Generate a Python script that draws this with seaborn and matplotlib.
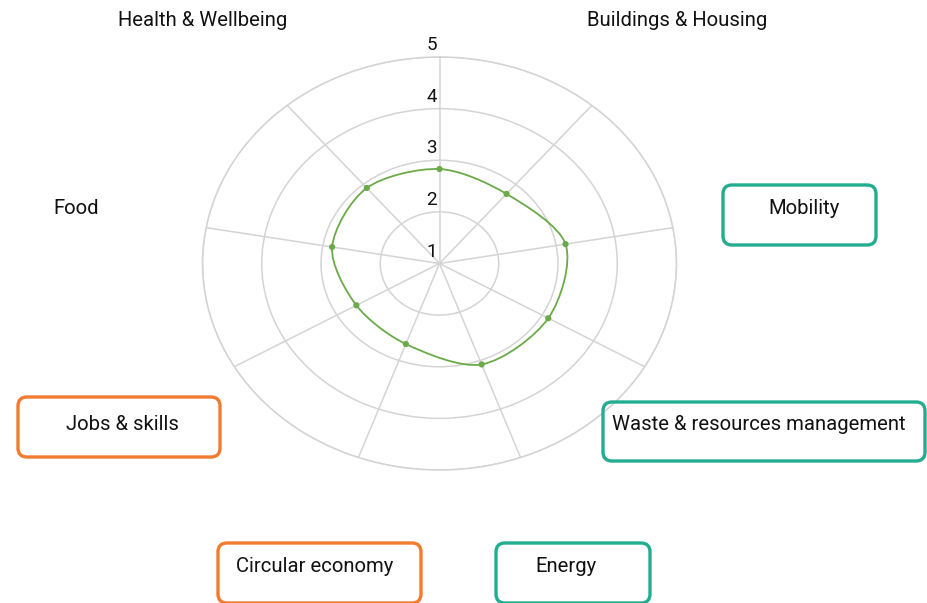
import numpy as np
import matplotlib
matplotlib.use("Agg")
import matplotlib.pyplot as plt
from matplotlib.path import Path
from matplotlib.patches import PathPatch, FancyBboxPatch
from matplotlib.transforms import IdentityTransform
import seaborn as sns

# ---------------- data ----------------
values = [2.83, 2.76, 3.16, 3.12, 3.08, 2.66, 2.62, 2.84, 2.91]   # 9 spokes, clockwise from top
ring_levels = [1, 2, 3, 4, 5]
ring_labels = ["1", "2", "3", "4", "5"]
theme_labels = ["Health & Wellbeing", "Buildings & Housing", "Mobility",
                "Waste & resources management", "Energy", "Circular economy",
                "Jobs & skills", "Food"]
theme_group = ["none", "none", "teal", "teal", "teal", "orange", "orange", "none"]

# ---------------- style / layout ----------------
W, H = 927, 603
GRID = "#d4d4d4"
GREEN = "#6aaa48"
COLORS = {"teal": "#22ad90", "orange": "#f27b30"}
FONT = ["Roboto", "DejaVu Sans"]
# label layout in pixels (center of text), box rect (x0, y0, x1, y1) in pixels from top-left
label_pos = [(203, 21), (677, 20), (804, 209), (759, 425), (566, 566), (315, 566), (122, 425), (76, 209)]
box_rects = [None, None, (723, 185, 876, 245), (603, 402, 925, 461), (496, 543, 650, 603),
             (218, 543, 421, 603), (18, 397, 220, 457), None]

sns.set_theme(style="white")
plt.rcParams["font.family"] = FONT

fig = plt.figure(figsize=(W / 100, H / 100), dpi=100)
fig.patch.set_facecolor("white")

# polar axes (elliptical, as in reference)
left, right, top, bottom = 202.5, 676.5, 57.0, 470.0
ax = fig.add_axes([left / W, 1 - bottom / H, (right - left) / W, (bottom - top) / H],
                  projection="polar")
ax.set_aspect("auto")
ax.set_theta_zero_location("N")
ax.set_theta_direction(-1)
ax.set_facecolor("none")

n = len(values)
theta = np.arange(n) * 2 * np.pi / n
ax.set_ylim(ring_levels[0], ring_levels[-1])
ax.set_thetagrids(np.degrees(theta), [""] * n)
ax.set_rgrids(ring_levels[1:], [""] * (len(ring_levels) - 1))
ax.grid(True, color=GRID, linewidth=1.1)
ax.spines["polar"].set_color(GRID)
ax.spines["polar"].set_linewidth(1.1)

# ring labels on the top spoke
for lv, lb in zip(ring_levels, ring_labels):
    ax.annotate(lb, xy=(0, lv), xytext=(-2, 2), textcoords="offset points",
                ha="right", va="bottom", fontsize=13.5, color="#111111", family=FONT,
                annotation_clip=False)

# smooth closed curve (Chart.js-like spline through the points)
vals = np.asarray(values, dtype=float)
rad = vals - ring_levels[0]
px = rad * np.sin(theta)
py = rad * np.cos(theta)
pts = np.column_stack([px, py])
tension = 0.3
cp_in, cp_out = [], []
for i in range(n):
    p0, p1, p2 = pts[i - 1], pts[i], pts[(i + 1) % n]
    d01 = np.hypot(*(p1 - p0)); d12 = np.hypot(*(p2 - p1))
    s01 = d01 / (d01 + d12); s12 = d12 / (d01 + d12)
    cp_in.append(p1 - tension * s01 * (p2 - p0))
    cp_out.append(p1 + tension * s12 * (p2 - p0))

def to_polar(p):
    t = np.arctan2(p[0], p[1])
    return (t, ring_levels[0] + np.hypot(p[0], p[1]))

verts = [to_polar(pts[0])]
codes = [Path.MOVETO]
for i in range(n):
    j = (i + 1) % n
    verts += [to_polar(cp_out[i]), to_polar(cp_in[j]), to_polar(pts[j])]
    codes += [Path.CURVE4] * 3
patch = PathPatch(Path(verts, codes), facecolor="none", edgecolor=GREEN, linewidth=1.3,
                  transform=ax.transData, zorder=3)
ax.add_patch(patch)

sns.scatterplot(x=theta, y=vals, ax=ax, color=GREEN, s=20, edgecolor="none", zorder=4)
ax.set_xlabel(""); ax.set_ylabel("")
legend = ax.get_legend()
if legend:
    legend.remove()

# theme labels with boxes
for lab, grp, pos, rect in zip(theme_labels, theme_group, label_pos, box_rects):
    fig.text(pos[0] / W, 1 - pos[1] / H, lab, ha="center", va="center",
             fontsize=14.6, color="#111111", family=FONT)
    if rect is not None:
        x0, y0, x1, y1 = rect
        box = FancyBboxPatch((x0, H - y1), x1 - x0, y1 - y0,
                             boxstyle="round,pad=0,rounding_size=9",
                             transform=IdentityTransform(), facecolor="none",
                             edgecolor=COLORS[grp], linewidth=2.4, clip_on=False)
        fig.patches.append(box)

fig.savefig("out.png", dpi=100, facecolor="white")
